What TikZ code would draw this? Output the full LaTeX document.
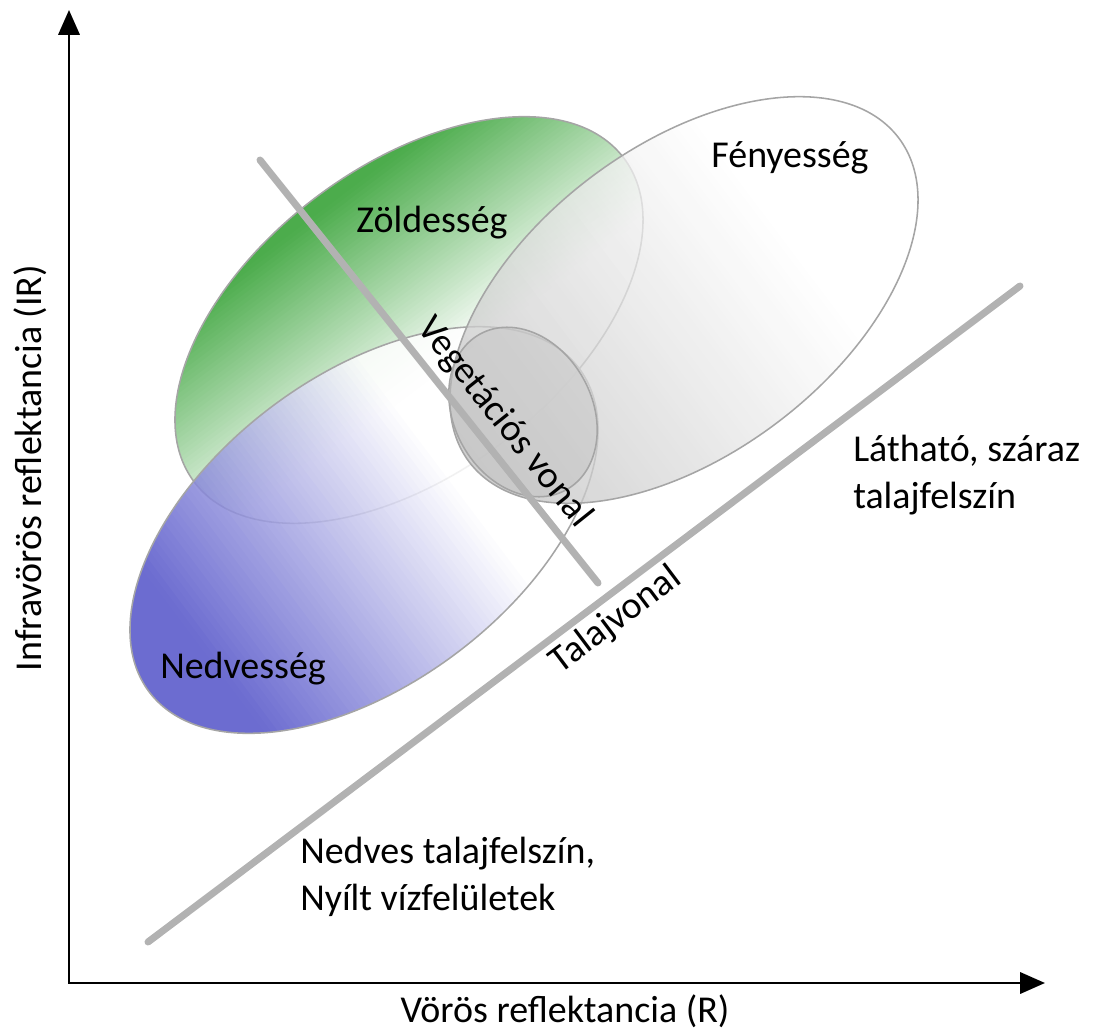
\documentclass[tikz,border=0pt]{standalone}
\usepackage{fontspec}
\setmainfont{Carlito}
\usetikzlibrary{arrows.meta}
\definecolor{zold}{RGB}{76,172,76}
\definecolor{lila}{RGB}{82,82,200}
\definecolor{szurke}{RGB}{192,192,192}
\definecolor{korv}{RGB}{165,165,165}
\definecolor{vonalszin}{RGB}{178,178,178}
\tikzset{
    cimke/.style={font=\fontsize{27}{33.4}\selectfont, inner sep=0pt},
    vonal/.style={line width=5pt, draw=vonalszin, line cap=round},
    tengely/.style={line width=1.9pt, {Triangle[length=0.62cm,width=0.53cm]}-{Triangle[length=0.62cm,width=0.53cm]}},
    korvonal/.style={draw=korv, line width=1.1pt},
}
\begin{document}
\begin{tikzpicture}[x=0.025cm, y=-0.025cm]
    \useasboundingbox (0,0) rectangle (1106,1032);
    % Zoldesseg
    \begin{scope}[shift={(409,320)}, rotate=37]
    \clip (0,0) ellipse [x radius=269, y radius=154];
    \foreach \k in {0,...,79}{
        \pgfmathsetmacro\vv{-160+\k*4}
        \pgfmathsetmacro\pp{max(0,min(100,(58-\vv)/2.0))}
        \fill[zold!\pp!white] (-280,\vv) rectangle (280,\vv+5);
    }
    \end{scope}
    \draw[korvonal, shift={(409,320)}, rotate=37] (0,0) ellipse [x radius=269, y radius=154];
    % Nedvesseg
    \begin{scope}[transparency group, opacity=0.85]
    \begin{scope}[shift={(364,530)}, rotate=37]
    \clip (0,0) ellipse [x radius=269, y radius=154];
    \foreach \k in {0,...,95}{
        \pgfmathsetmacro\uu{-276+\k*5.75}
        \pgfmathsetmacro\pp{max(0,min(100,(97-\uu)/3.0))}
        \fill[lila!\pp!white] (\uu,-160) rectangle (\uu+6.5,160);
    }
    \end{scope}
    \end{scope}
    \draw[korvonal, shift={(364,530)}, rotate=37] (0,0) ellipse [x radius=269, y radius=154];
    % Fenyesseg
    \begin{scope}[transparency group, opacity=0.75]
    \begin{scope}[shift={(684,300)}, rotate=37]
    \clip (0,0) ellipse [x radius=269, y radius=154];
    \foreach \k in {0,...,95}{
        \pgfmathsetmacro\uu{-276+\k*5.75}
        \pgfmathsetmacro\pp{max(0,min(100,(117-\uu)/3.9))}
        \fill[szurke!\pp!white] (\uu,-160) rectangle (\uu+6.5,160);
    }
    \end{scope}
    \end{scope}
    \draw[korvonal, shift={(684,300)}, rotate=37] (0,0) ellipse [x radius=269, y radius=154];
    % kozepso kor
    \draw[korvonal, fill=szurke, fill opacity=0.45, shift={(523,412)}, rotate=-61] (0,0) ellipse [x radius=89, y radius=69];

    \coordinate (veg1) at (260,160);
    \coordinate (veg2) at (598,583);
    \coordinate (tal1) at (148,942);
    \coordinate (tal2) at (1020,286);
    \draw[vonal] (veg1) -- (veg2) node[cimke, pos=0.66, sloped, above=5pt] (vegnev) {Vegetációs vonal};
    \draw[vonal] (tal1) -- (tal2) node[cimke, pos=0.52, sloped, below=3pt] (talnev) {Talajvonal};

    \coordinate (origo) at (69,983);
    \coordinate (ycsucs) at (69,10);
    \coordinate (xcsucs) at (1045,983);
    \draw[tengely] (ycsucs) -- (origo) -- (xcsucs);

    \node[cimke, anchor=base] (zold) at (432,232) {Zöldesség};
    \node[cimke, anchor=base] (feny) at (790,167) {Fényesség};
    \node[cimke, anchor=base] (nedv) at (243,678) {Nedvesség};
    \node[cimke, align=left, anchor=north west] (szaraz) at (853,435) {Látható, száraz\\talajfelszín};
    \node[cimke, align=left, anchor=north west] (nedves) at (300,837) {Nedves talajfelszín,\\Nyílt vízfelületek};
    \node[cimke, rotate=90] (ytengely) at (30,468) {Infravörös reflektancia (IR)};
    \node[cimke, anchor=base] (xtengely) at (565,1022) {Vörös reflektancia (R)};
\end{tikzpicture}
\end{document}
